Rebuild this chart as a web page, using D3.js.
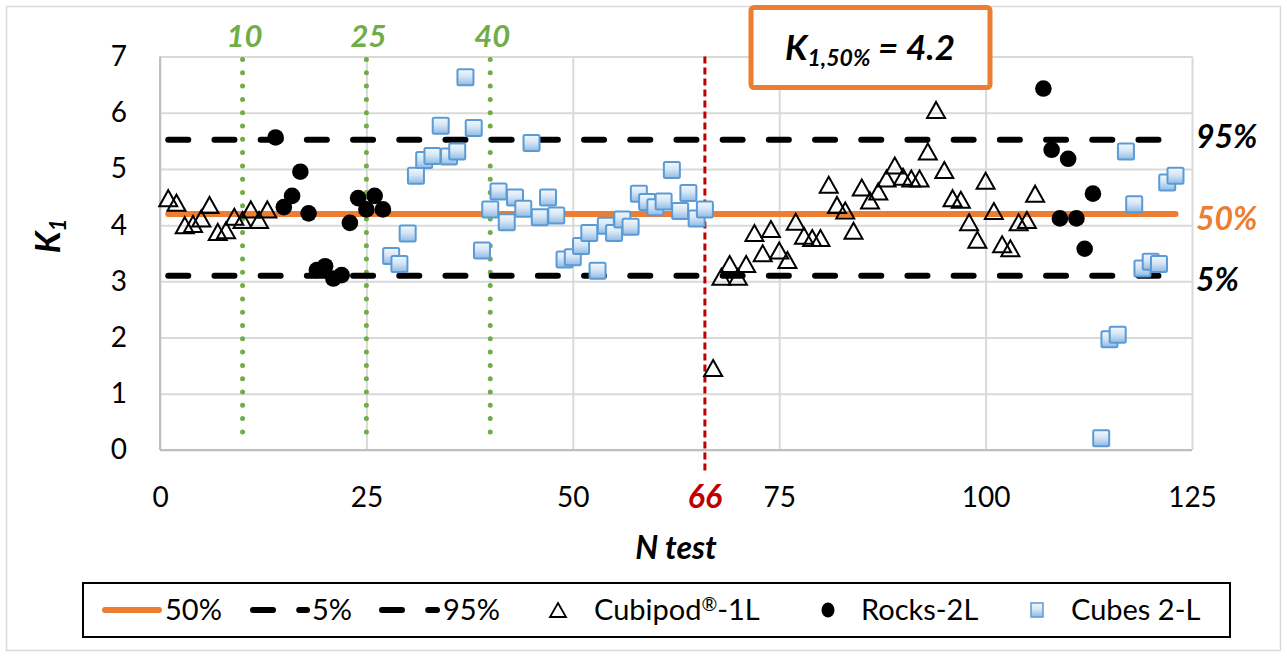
<!DOCTYPE html>
<html>
<head>
<meta charset="utf-8">
<script src="https://cdn.jsdelivr.net/npm/d3@7"></script>
<style>
  html, body { margin: 0; padding: 0; background: #fff; }
  svg { display: block; font-family: Lato, "Open Sans", sans-serif; }
</style>
</head>
<body>
<svg id="chart" width="1287" height="657"></svg>
<script>
// ---- data ----
const cubipodN = [1,2,3,4,5,6,7,8,9,10,11,12,13,
  67,68,69,70,71,72,73,74,75,76,77,78,79,80,81,82,83,84,85,86,87,88,89,90,
  91,92,93,94,95,96,97,98,99,100,101,102,103,104,105,106];
const cubipodK = [4.48,4.40,4.00,4.02,4.12,4.36,3.88,3.91,4.15,4.09,4.28,4.09,4.28,
  1.46,3.08,3.31,3.08,3.31,3.86,3.50,3.93,3.55,3.38,4.06,3.81,3.77,3.77,4.72,4.36,4.26,3.90,4.67,4.44,4.60,4.83,5.06,4.86,
  4.83,4.83,5.31,6.05,4.98,4.48,4.45,4.05,3.74,4.79,4.25,3.66,3.59,4.05,4.09,4.56];

const rocksN = [14,15,16,17,18,19,20,21,22,23,24,25,26,27,107,108,109,110,111,112,113];
const rocksK = [5.56,4.32,4.52,4.95,4.21,3.20,3.27,3.05,3.11,4.04,4.48,4.28,4.52,4.28,
  6.43,5.34,4.12,5.18,4.12,3.58,4.56];

const cubesN = [28,29,30,31,32,33,34,35,36,37,38,39,40,41,42,43,44,45,46,47,48,49,50,
  51,52,53,54,55,56,57,58,59,60,61,62,63,64,65,66,
  114,115,116,117,118,119,120,121,122,123];
const cubesK = [3.45,3.31,3.85,4.88,5.16,5.23,5.77,5.22,5.31,6.63,5.73,3.55,4.28,4.60,4.05,4.49,4.29,5.46,4.14,4.49,4.17,3.39,3.43,
  3.63,3.86,3.19,3.99,3.86,4.10,3.97,4.56,4.41,4.32,4.42,4.98,4.25,4.57,4.12,4.28,
  0.21,1.97,2.05,5.31,4.37,3.23,3.35,3.31,4.76,4.88];

// percentile levels of K1 and the test range they span
const levelNames = ["50%", "5%", "95%"];
const levelValues = [4.2, 3.1, 5.52];
const levelSpan = [1, 123];

// sample-size markers and the break at test 66
const sampleMarks = [10, 25, 40];
const breakTest = 66;

const xTicks = [0, 25, 50, 75, 100, 125];
const yTicks = [0, 1, 2, 3, 4, 5, 6, 7];

// ---- layout ----
const svg = d3.select("#chart");
const W = 1287, H = 657;
const plot = { left: 160, right: 1192, top: 56.5, bottom: 450 };

const x = d3.scaleLinear().domain([0, 125]).range([plot.left, plot.right]);
const y = d3.scaleLinear().domain([0, 7]).range([plot.bottom, plot.top]);

const ORANGE = "#ED7D31", GREEN = "#70AD47", RED = "#C00000", BLUE = "#5B9BD5", GRID = "#D9D9D9";

// gradient for the cube markers
const defs = svg.append("defs");
const grad = defs.append("linearGradient").attr("id", "cubeFill")
  .attr("x1", 0).attr("y1", 0).attr("x2", 0).attr("y2", 1);
grad.append("stop").attr("offset", "0%").attr("stop-color", "#f4f8fd");
grad.append("stop").attr("offset", "45%").attr("stop-color", "#d6e6f6");
grad.append("stop").attr("offset", "100%").attr("stop-color", "#8fbae4");

// outer frame
svg.append("rect").attr("x", 6.5).attr("y", 6.5).attr("width", W - 13).attr("height", H - 13)
  .attr("fill", "#fff").attr("stroke", GRID).attr("stroke-width", 1.5);

// gridlines
const gy = svg.append("g").attr("transform", `translate(${plot.left},0)`)
  .call(d3.axisLeft(y).tickValues(yTicks).tickSize(-(plot.right - plot.left)).tickFormat(""));
gy.select(".domain").remove();
gy.selectAll("line").attr("stroke", GRID).attr("stroke-width", 2);

const gx = svg.append("g").attr("transform", `translate(0,${plot.bottom})`)
  .call(d3.axisBottom(x).tickValues(xTicks).tickSize(-(plot.bottom - plot.top)).tickFormat(""));
gx.select(".domain").remove();
gx.selectAll("line").attr("stroke", GRID).attr("stroke-width", 2);

// axis tick labels
const ay = svg.append("g").attr("transform", `translate(${plot.left},0)`)
  .call(d3.axisLeft(y).tickValues(yTicks).tickFormat(d3.format("d")).tickSize(0).tickPadding(33));
ay.select(".domain").remove();
ay.selectAll("text").attr("font-size", 28).attr("font-family", "Lato").attr("fill", "#000");

const ax = svg.append("g").attr("transform", `translate(0,${plot.bottom})`)
  .call(d3.axisBottom(x).tickValues(xTicks).tickFormat(d3.format("d")).tickSize(0));
ax.select(".domain").remove();
ax.selectAll("text").attr("font-size", 28).attr("font-family", "Lato").attr("fill", "#000")
  .attr("y", 57).attr("dy", 0);

// axis lines (left and bottom)
svg.append("line").attr("x1", x(0)).attr("x2", x(0)).attr("y1", y(7)).attr("y2", y(0))
  .attr("stroke", "#BFBFBF").attr("stroke-width", 2);
svg.append("line").attr("x1", x(0)).attr("x2", x(125)).attr("y1", y(0)).attr("y2", y(0))
  .attr("stroke", "#BFBFBF").attr("stroke-width", 2);

// green dotted sample-size markers
svg.append("g").selectAll("line").data(sampleMarks).join("line")
  .attr("x1", d => x(d)).attr("x2", d => x(d))
  .attr("y1", y(7) + 3).attr("y2", y(0) - 6)
  .attr("stroke", GREEN).attr("stroke-width", 5)
  .attr("stroke-linecap", "round").attr("stroke-dasharray", "0,13.3");
svg.append("g").selectAll("text").data(sampleMarks).join("text")
  .attr("x", d => x(d) + 2).attr("y", 47)
  .attr("text-anchor", "middle").attr("font-size", 31)
  .attr("font-weight", "bold").attr("font-style", "italic").attr("fill", GREEN)
  .text(d => d);

// red dashed break line
svg.append("line").attr("x1", x(breakTest)).attr("x2", x(breakTest))
  .attr("y1", y(7)).attr("y2", y(0) + 22)
  .attr("stroke", RED).attr("stroke-width", 3).attr("stroke-dasharray", "7,4");
svg.append("text").attr("x", x(breakTest)).attr("y", 508)
  .attr("text-anchor", "middle").attr("font-size", 32)
  .attr("font-weight", "bold").attr("font-style", "italic").attr("fill", RED)
  .text(breakTest);

// percentile lines
const levelStyle = [
  { color: ORANGE, dash: null },
  { color: "#000", dash: "20,26.2" },
  { color: "#000", dash: "20,26.2" }
];
const levelLine = d3.line().x(d => x(d[0])).y(d => y(d[1]));
levelValues.forEach((v, i) => {
  svg.append("path")
    .attr("d", levelLine([[levelSpan[0], v], [levelSpan[1], v]]))
    .attr("fill", "none").attr("stroke", levelStyle[i].color)
    .attr("stroke-width", 6).attr("stroke-linecap", "round")
    .attr("stroke-dasharray", levelStyle[i].dash);
});

// right-side level labels
const levelLabelColor = [ORANGE, "#000", "#000"];
const levelLabelShift = [5, 4, -3];
svg.append("g").selectAll("text").data(levelValues).join("text")
  .attr("x", 1196).attr("y", (d, i) => y(d) + 11 + levelLabelShift[i])
  .attr("font-size", 32).attr("font-weight", "bold").attr("font-style", "italic")
  .attr("fill", (d, i) => levelLabelColor[i])
  .text((d, i) => levelNames[i]);

// marker shapes
const triPath = (w, h) => `M0,${-h / 2}L${w / 2},${h / 2}L${-w / 2},${h / 2}Z`;

// cubes
svg.append("g").selectAll("rect").data(cubesN.map((n, i) => [n, cubesK[i]])).join("rect")
  .attr("x", d => x(d[0]) - 8).attr("y", d => y(d[1]) - 8)
  .attr("width", 16).attr("height", 16).attr("rx", 1.5)
  .attr("fill", "url(#cubeFill)").attr("stroke", BLUE).attr("stroke-width", 2);

// cubipod triangles
svg.append("g").selectAll("path").data(cubipodN.map((n, i) => [n, cubipodK[i]])).join("path")
  .attr("transform", d => `translate(${x(d[0])},${y(d[1])})`)
  .attr("d", triPath(18, 16))
  .attr("fill", "none").attr("stroke", "#000").attr("stroke-width", 2)
  .attr("stroke-linejoin", "miter");

// rocks
svg.append("g").selectAll("circle").data(rocksN.map((n, i) => [n, rocksK[i]])).join("circle")
  .attr("cx", d => x(d[0])).attr("cy", d => y(d[1])).attr("r", 8.3)
  .attr("fill", "#000");

// annotation box
svg.append("rect").attr("x", 751).attr("y", 7.5).attr("width", 239).attr("height", 80)
  .attr("rx", 3).attr("fill", "#fff").attr("stroke", ORANGE).attr("stroke-width", 5);
const ann = svg.append("text").attr("x", 870).attr("y", 60).attr("text-anchor", "middle")
  .attr("font-weight", "bold").attr("font-style", "italic").attr("fill", "#000");
ann.append("tspan").attr("font-size", 35).text("K");
ann.append("tspan").attr("font-size", 23).attr("dy", 6).text("1,50%");
ann.append("tspan").attr("font-size", 35).attr("dy", -6).text(" = 4.2");

// axis titles
svg.append("text").attr("x", 676).attr("y", 559).attr("text-anchor", "middle")
  .attr("font-size", 32).attr("font-weight", "bold").attr("font-style", "italic")
  .text("N test");
const yt = svg.append("text").attr("transform", "translate(60,236) rotate(-90)")
  .attr("text-anchor", "middle").attr("font-weight", "bold").attr("font-style", "italic");
yt.append("tspan").attr("font-size", 34).text("K");
yt.append("tspan").attr("font-size", 22).attr("dy", 6).text("1");

// legend
const lg = svg.append("g");
lg.append("rect").attr("x", 83).attr("y", 583).attr("width", 1147).attr("height", 54)
  .attr("fill", "#fff").attr("stroke", "#000").attr("stroke-width", 2);
const ly = 610;
const legendItems = [
  { kind: "line", color: ORANGE, dash: null, x0: 105, x1: 159, tx: 165, label: ["50%"] },
  { kind: "line", color: "#000", dash: "20,26.2", x0: 253, x1: 307, tx: 312, label: ["5%"] },
  { kind: "line", color: "#000", dash: "20,26.2", x0: 382, x1: 437, tx: 443, label: ["95%"] },
  { kind: "tri", cx: 558, tx: 594, label: ["Cubipod", "®", "-1L"] },
  { kind: "dot", cx: 828, tx: 861, label: ["Rocks-2L"] },
  { kind: "cube", cx: 1037, tx: 1071, label: ["Cubes 2-L"] }
];
legendItems.forEach(it => {
  if (it.kind === "line") {
    lg.append("line").attr("x1", it.x0).attr("x2", it.x1).attr("y1", ly).attr("y2", ly)
      .attr("stroke", it.color).attr("stroke-width", 6).attr("stroke-linecap", "round")
      .attr("stroke-dasharray", it.dash);
  } else if (it.kind === "tri") {
    lg.append("path").attr("transform", `translate(${it.cx},${ly})`).attr("d", triPath(16, 14))
      .attr("fill", "none").attr("stroke", "#000").attr("stroke-width", 1.8);
  } else if (it.kind === "dot") {
    lg.append("ellipse").attr("cx", it.cx).attr("cy", ly).attr("rx", 6.5).attr("ry", 7.5).attr("fill", "#000");
  } else {
    lg.append("rect").attr("x", it.cx - 6).attr("y", ly - 7).attr("width", 12).attr("height", 14)
      .attr("fill", "url(#cubeFill)").attr("stroke", BLUE).attr("stroke-width", 1.5);
  }
  const t = lg.append("text").attr("x", it.tx).attr("y", ly + 10).attr("font-size", 29)
    .attr("fill", "#000");
  it.label.forEach(part => {
    if (part === "®") {
      t.append("tspan").attr("font-size", 19).attr("dy", -9).text(part);
    } else {
      const s = t.append("tspan").text(part);
      if (t.selectAll("tspan").size() > 2) s.attr("dy", 9);
    }
  });
});
</script>
</body>
</html>
